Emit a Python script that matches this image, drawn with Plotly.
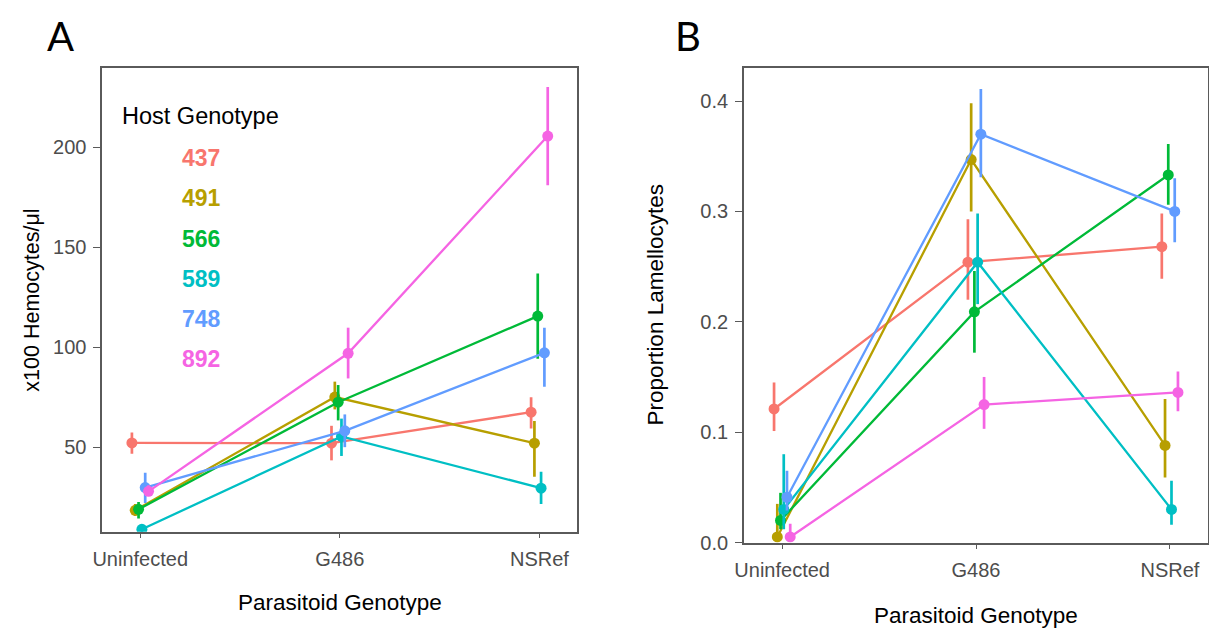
import plotly.graph_objects as go

# ---------------- data ----------------
categories = ["Uninfected", "G486", "NSRef"]
hosts = ["437", "491", "566", "589", "748", "892"]
host_colors = ["#F8766D", "#B79F00", "#00BA38", "#00BFC4", "#619CFF", "#F564E3"]

# Panel A: x100 Hemocytes/ul (mean, lower, upper)
hemo_437 = [52.1, 52.0, 67.5]
hemo_437_lo = [46.7, 43.4, 59.3]
hemo_437_hi = [57.4, 60.7, 75.0]
hemo_491 = [18.4, 75.1, 52.0]
hemo_491_lo = [15.5, 68.9, 35.2]
hemo_491_hi = [21.5, 82.8, 63.1]
hemo_566 = [18.9, 72.5, 115.6]
hemo_566_lo = [14.3, 63.4, 94.3]
hemo_566_hi = [22.6, 81.1, 136.9]
hemo_589 = [8.9, 55.4, 29.5]
hemo_589_lo = [7.0, 45.6, 21.6]
hemo_589_hi = [11.0, 64.3, 37.7]
hemo_748 = [29.8, 58.2, 97.2]
hemo_748_lo = [22.1, 50.0, 80.3]
hemo_748_hi = [37.2, 66.4, 109.8]
hemo_892 = [27.9, 97.0, 205.7]
hemo_892_lo = [25.5, 84.4, 181.1]
hemo_892_hi = [31.0, 109.8, 230.3]

# Panel B: proportion lamellocytes (mean, lower, upper)
lam_437 = [0.121, 0.254, 0.268]
lam_437_lo = [0.101, 0.220, 0.239]
lam_437_hi = [0.145, 0.293, 0.298]
lam_491 = [0.005, 0.347, 0.088]
lam_491_lo = [0.001, 0.300, 0.059]
lam_491_hi = [0.035, 0.398, 0.130]
lam_566 = [0.020, 0.209, 0.333]
lam_566_lo = [0.012, 0.172, 0.306]
lam_566_hi = [0.045, 0.246, 0.361]
lam_589 = [0.030, 0.254, 0.030]
lam_589_lo = [0.012, 0.216, 0.016]
lam_589_hi = [0.080, 0.298, 0.056]
lam_748 = [0.041, 0.370, 0.300]
lam_748_lo = [0.029, 0.331, 0.272]
lam_748_hi = [0.065, 0.411, 0.330]
lam_892 = [0.005, 0.125, 0.136]
lam_892_lo = [0.001, 0.103, 0.119]
lam_892_hi = [0.017, 0.150, 0.155]

yticks_a = [50, 100, 150, 200]
yticks_b = [0.0, 0.1, 0.2, 0.3, 0.4]
ytick_labels_b = ["0.0", "0.1", "0.2", "0.3", "0.4"]

hemo = [(hemo_437, hemo_437_lo, hemo_437_hi), (hemo_491, hemo_491_lo, hemo_491_hi),
        (hemo_566, hemo_566_lo, hemo_566_hi), (hemo_589, hemo_589_lo, hemo_589_hi),
        (hemo_748, hemo_748_lo, hemo_748_hi), (hemo_892, hemo_892_lo, hemo_892_hi)]
lam = [(lam_437, lam_437_lo, lam_437_hi), (lam_491, lam_491_lo, lam_491_hi),
       (lam_566, lam_566_lo, lam_566_hi), (lam_589, lam_589_lo, lam_589_hi),
       (lam_748, lam_748_lo, lam_748_hi), (lam_892, lam_892_lo, lam_892_hi)]

# ---------------- figure ----------------
# the page has an 8px body margin, so the figure is shrunk and shifted by it
PAGE_W, PAGE_H = 1217, 638
OFF = 8
W, H = PAGE_W - OFF, PAGE_H - OFF
FONT = "Liberation Sans, Arial, Helvetica, sans-serif"
dodge_width = 0.1
n = len(hosts)
offsets = [dodge_width * ((i + 0.5) / n - 0.5) for i in range(n)]
base_x = list(range(len(categories)))

fig = go.Figure()

def add_series(data, xa, ya):
    for i, (mean, lo, hi) in enumerate(data):
        xs = [b + offsets[i] for b in base_x]
        fig.add_trace(go.Scatter(
            x=xs, y=mean, xaxis=xa, yaxis=ya,
            mode="lines+markers",
            line=dict(color=host_colors[i], width=2.3),
            marker=dict(color=host_colors[i], size=11),
            error_y=dict(type="data", symmetric=False,
                         array=[h - m for h, m in zip(hi, mean)],
                         arrayminus=[m - l for m, l in zip(mean, lo)],
                         color=host_colors[i], thickness=2.7, width=0),
            name=hosts[i], showlegend=False, cliponaxis=True,
        ))

add_series(hemo, "x", "y")
add_series(lam, "x2", "y2")

def px_x(p):
    return (p - OFF) / W

def px_y(p):
    return 1 - (p - OFF) / H

axis_common = dict(showgrid=False, zeroline=False, showline=True, mirror=True,
                   linecolor="#5a5a5a", linewidth=1.6, ticks="outside",
                   tickcolor="#5a5a5a", tickwidth=1.2,
                   tickfont=dict(family=FONT, size=20, color="#4D4D4D"))
xaxis_style = dict(ticklen=5, ticklabelstandoff=4, **axis_common)
yaxis_style = dict(ticklen=7, ticklabelstandoff=3, **axis_common)

fig.update_layout(
    width=W, height=H,
    margin=dict(l=0, r=0, t=0, b=0),
    paper_bgcolor="white", plot_bgcolor="white",
    showlegend=False,
    xaxis=dict(domain=[px_x(93), px_x(572)], range=[-0.19, 2.19],
               tickvals=base_x, ticktext=categories, anchor="y", **xaxis_style),
    yaxis=dict(domain=[px_y(541), px_y(69)], range=[7.7, 239.8],
               tickvals=yticks_a, anchor="x", **yaxis_style),
    xaxis2=dict(domain=[px_x(740), px_x(1208)], range=[-0.197, 2.197],
                tickvals=base_x, ticktext=categories, anchor="y2", **xaxis_style),
    yaxis2=dict(domain=[px_y(552), px_y(69)], range=[0, 0.43],
                tickvals=yticks_b, ticktext=ytick_labels_b, anchor="x2", **yaxis_style),
)

ann = []
title_font = dict(family=FONT, size=22.5, color="black")
letter_font = dict(family="Lato, Open Sans, sans-serif", size=40, color="black")
# Panel letters
ann.append(dict(text="A", x=px_x(51), y=px_y(36), xref="paper", yref="paper",
                showarrow=False, font=letter_font, xanchor="center", yanchor="middle"))
ann.append(dict(text="B", x=px_x(684), y=px_y(36), xref="paper", yref="paper",
                showarrow=False, font=letter_font, xanchor="center", yanchor="middle"))
# Axis titles
ann.append(dict(text="Parasitoid Genotype", x=px_x(333), y=px_y(613), xref="paper", yref="paper",
                showarrow=False, font=title_font, xanchor="center", yanchor="middle"))
ann.append(dict(text="Parasitoid Genotype", x=px_x(974), y=px_y(626), xref="paper", yref="paper",
                showarrow=False, font=title_font, xanchor="center", yanchor="middle"))
ann.append(dict(text="x100 Hemocytes/μl", x=px_x(22), y=px_y(305), xref="paper", yref="paper",
                showarrow=False, font=dict(family=FONT, size=21.5, color="black"),
                textangle=-90, xanchor="center", yanchor="middle"))
ann.append(dict(text="Proportion Lamellocytes", x=px_x(651), y=px_y(310), xref="paper", yref="paper",
                showarrow=False, font=title_font, textangle=-90, xanchor="center", yanchor="middle"))
# Legend (inside panel A)
ann.append(dict(text="Host Genotype", x=px_x(111), y=px_y(118), xref="paper", yref="paper",
                showarrow=False, font=dict(family=FONT, size=23.5, color="black"),
                xanchor="left", yanchor="middle"))
for i, h in enumerate(hosts):
    ann.append(dict(text="<b>%s</b>" % h, x=px_x(171), y=px_y(161 + i * 40.8),
                    xref="paper", yref="paper", showarrow=False,
                    font=dict(family=FONT, size=23, color=host_colors[i]),
                    xanchor="left", yanchor="middle"))

fig.update_layout(annotations=ann)
fig.write_html("out.html")
